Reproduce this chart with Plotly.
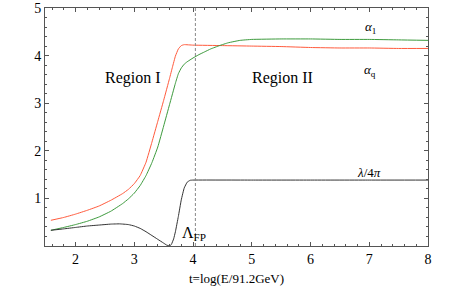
import plotly.graph_objects as go

# --- data ---
t_red = [1.58, 1.8, 2.0, 2.2, 2.4, 2.6, 2.8, 2.9, 3.0, 3.1, 3.2, 3.3, 3.4, 3.5, 3.6, 3.65, 3.7, 3.75, 3.8, 3.85, 4.0, 4.5, 5.0, 5.5, 6.0, 6.5, 7.0, 7.5, 8.0]
alpha_q = [0.54, 0.60, 0.67, 0.75, 0.84, 0.96, 1.10, 1.19, 1.31, 1.48, 1.76, 2.18, 2.62, 3.06, 3.52, 3.76, 3.99, 4.14, 4.21, 4.23, 4.22, 4.21, 4.2, 4.19, 4.17, 4.16, 4.16, 4.15, 4.15]

t_green = [1.58, 1.8, 2.0, 2.2, 2.4, 2.6, 2.8, 2.9, 3.0, 3.1, 3.2, 3.3, 3.4, 3.5, 3.6, 3.7, 3.75, 3.8, 3.85, 3.9, 4.0, 4.1, 4.2, 4.3, 4.45, 4.6, 4.8, 5.0, 5.5, 6.0, 6.5, 7.0, 7.5, 8.0]
alpha_1 = [0.33, 0.39, 0.45, 0.52, 0.61, 0.73, 0.89, 0.99, 1.11, 1.27, 1.48, 1.75, 2.08, 2.52, 2.97, 3.42, 3.62, 3.74, 3.82, 3.87, 3.95, 4.02, 4.08, 4.14, 4.21, 4.27, 4.32, 4.34, 4.35, 4.35, 4.34, 4.34, 4.33, 4.32]

t_black = [1.58, 1.8, 2.0, 2.2, 2.4, 2.6, 2.75, 2.9, 3.0, 3.1, 3.2, 3.3, 3.4, 3.5, 3.55, 3.6, 3.63, 3.67, 3.7, 3.75, 3.8, 3.85, 3.9, 3.95, 4.0, 5.0, 6.0, 7.0, 8.0]
lam = [0.33, 0.36, 0.39, 0.42, 0.44, 0.46, 0.465, 0.45, 0.42, 0.37, 0.30, 0.22, 0.14, 0.06, 0.02, 0.0, 0.03, 0.15, 0.3, 0.62, 0.97, 1.22, 1.34, 1.38, 1.385, 1.385, 1.385, 1.385, 1.385]

x_ticks = [2, 3, 4, 5, 6, 7, 8]
y_ticks = [1, 2, 3, 4, 5]
t_fp = 4.04

FONT = "Liberation Serif"
AX = "#555555"

fig = go.Figure()
line_shape = dict(width=1, shape="spline", smoothing=0.3)
fig.add_trace(go.Scatter(x=t_red, y=alpha_q, mode="lines", line=dict(color="#ff5a3c", **line_shape)))
fig.add_trace(go.Scatter(x=t_green, y=alpha_1, mode="lines", line=dict(color="#3c9a3c", **line_shape)))
fig.add_trace(go.Scatter(x=t_black, y=lam, mode="lines", line=dict(color="#333333", **line_shape)))

fig.add_shape(type="line", x0=t_fp, x1=t_fp, y0=0, y1=5, xref="x", yref="y",
              line=dict(color="#888888", width=1, dash="3px,2px"))

def ann(x, y, text, size):
    fig.add_annotation(x=x, y=y, text=text, showarrow=False, xref="x", yref="y",
                       font=dict(family=FONT, size=size, color="black"))

ann(2.98, 3.52, "Region I", 16)
ann(5.52, 3.52, "Region II", 16)
ann(7.02, 4.6, "<i>α</i><sub>1</sub>", 13)
ann(7.02, 3.68, "<i>α</i><sub>q</sub>", 13)
ann(7.0, 1.55, "<i>λ</i>/4<i>π</i>", 13)
ann(4.02, 0.27, "Λ<sub>FP</sub>", 16)

axis_common = dict(showline=True, linecolor=AX, linewidth=1, mirror="ticks",
                   ticks="inside", ticklen=4, tickcolor=AX, showgrid=False, zeroline=False,
                   automargin=False,
                   tickfont=dict(family=FONT, size=14, color="black"))

fig.update_xaxes(range=[1.48, 8], tickvals=x_ticks, ticktext=[str(v) for v in x_ticks],
                 minor=dict(dtick=0.2, tick0=0, ticks="inside", ticklen=2, tickcolor=AX),
                 title=dict(text="t=log(E/91.2GeV)", font=dict(family=FONT, size=13, color="black"), standoff=11),
                 **axis_common)
fig.update_yaxes(range=[0, 5], tickvals=y_ticks, ticktext=[str(v) for v in y_ticks],
                 minor=dict(dtick=0.2, tick0=0, ticks="inside", ticklen=2, tickcolor=AX),
                 **axis_common)

fig.update_layout(width=463, height=286, margin=dict(l=45, r=35, t=8, b=40),
                  paper_bgcolor="white", plot_bgcolor="white", showlegend=False,
                  font=dict(family=FONT))
fig.write_html("out.html", config={"displayModeBar": False},
               post_script="document.body.style.margin='0';")
